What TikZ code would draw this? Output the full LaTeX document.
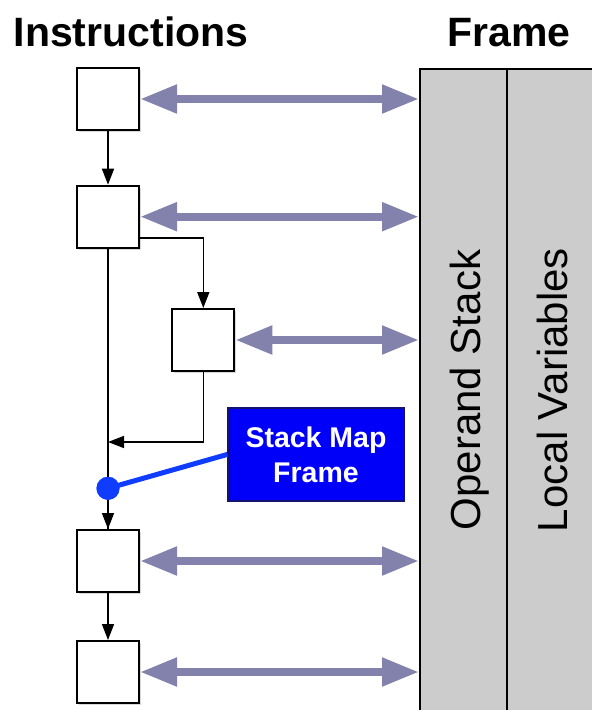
\documentclass[tikz,border=0pt]{standalone}
\usepackage{fontspec}
\setmainfont{Liberation Sans}
\usetikzlibrary{arrows.meta,shadows}
\definecolor{periw}{RGB}{130,130,172}
\definecolor{framegray}{RGB}{204,204,204}
\definecolor{smfblue}{RGB}{0,0,250}
\definecolor{linkblue}{RGB}{15,60,255}
\definecolor{smfborder}{RGB}{20,20,110}
\tikzset{
  instr/.style={draw=black, line width=2pt, fill=white, minimum width=62pt, minimum height=62pt, inner sep=0pt,
    drop shadow={opacity=0.3, shadow xshift=2pt, shadow yshift=-2pt}},
  flow/.style={draw=black, line width=1.6pt, -{Triangle[length=16pt,width=12pt]}},
  plain/.style={draw=black, line width=1.6pt},
  access/.style={draw=periw, line width=8pt, {Triangle[length=37pt,width=27pt]}-{Triangle[length=37pt,width=27pt]}},
  title/.style={font=\fontsize{41}{46}\selectfont\bfseries, anchor=base},
  vlabel/.style={font=\fontsize{42}{48}\selectfont, rotate=90, anchor=base},
}
\begin{document}
\begin{tikzpicture}[x=1pt,y=-1pt]
\useasboundingbox (0,0) rectangle (592,710);
\clip (0,0) rectangle (592,710);
% frame
\node[draw=black, line width=2pt, fill=framegray, minimum width=200pt, minimum height=680pt, inner sep=0pt, anchor=north west] (fr) at (419,68) {};
\draw[black, line width=2pt] (507,68) -- (507,720);
\node[vlabel] (os) at (480,390) {Operand Stack};
\node[vlabel] (lv) at (567,390) {Local Variables};
% titles
\node[title] (ti) at (131,46) {Instructions};
\node[title] (tf) at (509,46) {Frame};
% instructions
\node[instr] (b1) at (108,99) {};
\node[instr] (b2) at (108,216.7) {};
\node[instr] (b3) at (203.3,340) {};
\node[instr] (b4) at (108,561) {};
\node[instr] (b5) at (108,672) {};
\coordinate (br) at (139,237.7);
\coordinate (merge) at (108,442);
% control flow
\draw[flow] (b1) -- (b2);
\draw[plain] (b2.south) -- (b4.north);
\draw[flow] (br) -| (b3.north);
\draw[flow] (b3.south) |- (merge);
\draw[flow] (108,490) -- (b4.north);
\draw[flow] (b4) -- (b5);
% stack map frame
\node[draw=smfborder, line width=1.2pt, fill=smfblue, minimum width=176pt, minimum height=93pt, inner sep=0pt,
  text=white, align=center, font=\fontsize{28.5}{35}\selectfont\bfseries] (smf) at (316,454.4) {Stack Map\\Frame};
\node[circle, fill=linkblue, minimum size=23pt, inner sep=0pt] (dot) at (108,488.3) {};
\draw[linkblue, line width=5pt] (dot.center) -- (smf.west);
\node[circle, fill=linkblue, minimum size=23pt, inner sep=0pt] at (dot) {};
% frame access
\draw[access] (b1.east) -- (b1.east -| fr.west);
\draw[access] (b2.east) -- (b2.east -| fr.west);
\draw[access] (b3.east) -- (b3.east -| fr.west);
\draw[access] (b4.east) -- (b4.east -| fr.west);
\draw[access] (b5.east) -- (b5.east -| fr.west);
\end{tikzpicture}
\end{document}
